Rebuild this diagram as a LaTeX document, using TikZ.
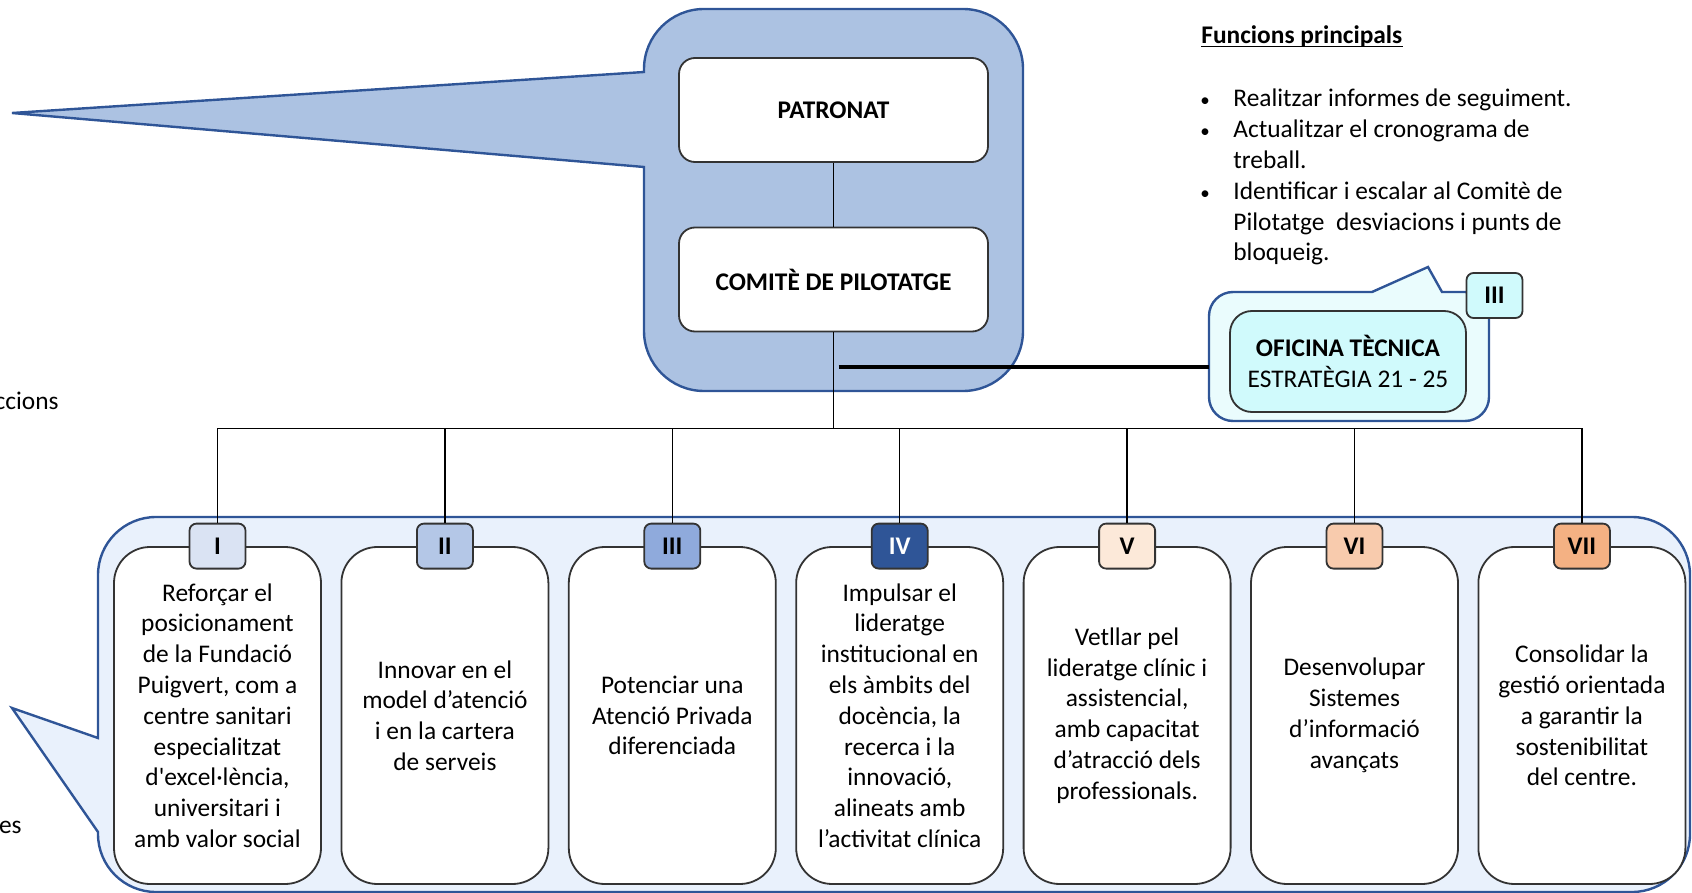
\documentclass[tikz,border=0pt]{standalone}
\usepackage{fontspec}
\setmainfont{Carlito}
\usetikzlibrary{positioning}

\definecolor{grpblue}{RGB}{47,85,151}
\definecolor{topfill}{RGB}{172,194,226}
\definecolor{botfill}{RGB}{233,241,252}
\definecolor{ofcouter}{RGB}{234,252,253}
\definecolor{ofcinner}{RGB}{208,250,252}
\definecolor{cardline}{RGB}{51,51,51}
\definecolor{tabI}{RGB}{218,227,243}
\definecolor{tabII}{RGB}{180,199,231}
\definecolor{tabIII}{RGB}{143,170,220}
\definecolor{tabIV}{RGB}{47,85,151}
\definecolor{tabV}{RGB}{252,233,217}
\definecolor{tabVI}{RGB}{248,203,173}
\definecolor{tabVII}{RGB}{244,177,131}

\newcommand{\txt}{\fontsize{12.7pt}{15.4pt}\selectfont}
\newcommand{\dotitem}{{\fontsize{9.5pt}{9.5pt}\selectfont\textbullet}}

\begin{document}
\begin{tikzpicture}[
  x=0.5pt, y=-0.5pt,
  every node/.style={font=\txt},
  grp/.style={draw=grpblue, line width=1.2pt},
  boss/.style={draw=cardline, line width=0.9pt, fill=white, rounded corners=8pt,
              minimum width=154.5pt, minimum height=52pt, font=\txt\bfseries},
  card/.style={draw=cardline, line width=0.9pt, fill=white, rounded corners=18pt,
              align=center, minimum width=103.5pt, minimum height=168.5pt},
  tab/.style={draw=cardline, line width=0.9pt, rounded corners=3.5pt,
              minimum width=28pt, minimum height=22.5pt, inner sep=0pt,
              font=\txt\bfseries},
  conn/.style={draw=black, line width=0.7pt},
]
\useasboundingbox (0,0) rectangle (1692,893);

% Group callouts (drawn first, under everything)
\draw[grp, fill=botfill, rounded corners=29pt]
  (98,832) -- (98,892) -- (1690,892) -- (1690,517) -- (98,517)
  [sharp corners] -- (98,738) -- (12,708) -- cycle;
\draw[grp, fill=topfill, rounded corners=30pt]
  (644,167) -- (644,391) -- (1023,391) -- (1023,9) -- (644,9)
  [sharp corners] -- (644,72) -- (12,113) -- cycle;
\draw[grp, fill=ofcouter, rounded corners=12pt]
  (1372,292) -- (1209,292) -- (1209,421) -- (1489,421) -- (1489,292)
  [sharp corners] -- (1442,292) -- (1428,267) -- cycle;

% Governing bodies
\node[boss] (pat) at (833.5,110) {PATRONAT};
\node[boss] (com) at (833.5,279.5) {COMITÈ DE PILOTATGE};

% Technical office
\node[draw=cardline, line width=0.9pt, fill=ofcinner, rounded corners=11pt,
  align=center, minimum width=118pt, minimum height=50.5pt] (ofc) at (1348,361.5)
  {\textbf{OFICINA TÈCNICA}\\ESTRATÈGIA 21 - 25};
\node[tab, fill=ofcinner] (t0) at (1494.5,295.5) {III};

% Main functions text
\node[anchor=base west, inner sep=0pt, font=\txt\bfseries] (ttl) at (1201,44)
  {Funcions principals};
\draw[line width=0.6pt] ([yshift=-1.3pt]ttl.base west) -- ([yshift=-1.3pt]ttl.base east);
\node[anchor=base west, inner sep=0pt] (fns) at (1200,107)
  {\begin{tabular}[t]{@{}p{16.5pt}@{}l@{}}
   \dotitem & Realitzar informes de seguiment.\\
   \dotitem & Actualitzar el cronograma de\\
            & treball.\\
   \dotitem & Identificar i escalar al Comitè de\\
            & Pilotatge\ \ desviacions i punts de\\
            & bloqueig.
   \end{tabular}};

% Cut-off labels at the left edge
\node[anchor=base east, inner sep=0pt] (lblA) at (59,409) {ccions};
\node[anchor=base east, inner sep=0pt] (lblB) at (22,833) {es};

% Strategic lines
\node[card] (c1) at (217.5,715.5) {Reforçar el\\posicionament\\de la Fundació\\Puigvert, com a\\centre sanitari\\especialitzat\\d\textquotesingle excel·lència,\\universitari i\\amb valor social};
\node[card, right=9.3pt of c1] (c2) {Innovar en el\\model d’atenció\\i en la cartera\\de serveis};
\node[card, right=9.3pt of c2] (c3) {Potenciar una\\Atenció Privada\\diferenciada};
\node[card, right=9.3pt of c3] (c4) {Impulsar el\\lideratge\\institucional en\\els àmbits del\\docència, la\\recerca i la\\innovació,\\alineats amb\\l’activitat clínica};
\node[card, right=9.3pt of c4] (c5) {Vetllar pel\\lideratge clínic i\\assistencial,\\amb capacitat\\d’atracció dels\\professionals.};
\node[card, right=9.3pt of c5] (c6) {Desenvolupar\\Sistemes\\d’informació\\avançats};
\node[card, right=9.3pt of c6] (c7) {Consolidar la\\gestió orientada\\a garantir la\\sostenibilitat\\del centre.};

\node[tab, fill=tabI] (t1) at (c1.north) {I};
\node[tab, fill=tabII] (t2) at (c2.north) {II};
\node[tab, fill=tabIII] (t3) at (c3.north) {III};
\node[tab, fill=tabIV, text=white] (t4) at (c4.north) {IV};
\node[tab, fill=tabV] (t5) at (c5.north) {V};
\node[tab, fill=tabVI] (t6) at (c6.north) {VI};
\node[tab, fill=tabVII] (t7) at (c7.north) {VII};

% Connectors
\path (com.south) ++(0,96) coordinate (bus);
\path (com.south) ++(5,0) coordinate (stem);
\coordinate (ofcL) at (1209,367);

\draw[conn] (pat) -- (com);
\draw[conn] (com) -- (bus);
\draw[conn] (t1) |- (bus);
\draw[conn] (t2) |- (bus);
\draw[conn] (t3) |- (bus);
\draw[conn] (t4) |- (bus);
\draw[conn] (t5) |- (bus);
\draw[conn] (t6) |- (bus);
\draw[conn] (t7) |- (bus);
\draw[line width=2pt] (stem |- ofcL) -- (ofcL);

\end{tikzpicture}
\end{document}
